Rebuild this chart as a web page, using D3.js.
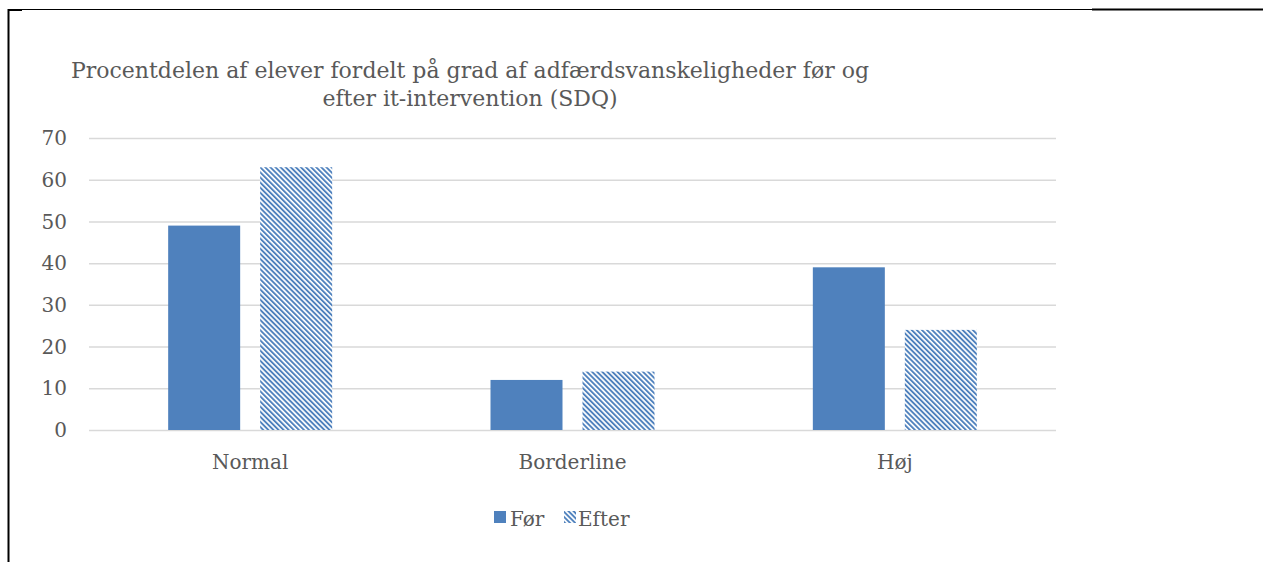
<!DOCTYPE html>
<html><head><meta charset="utf-8">
<script src="https://cdn.jsdelivr.net/npm/d3@7"></script>
<style>body{margin:0;background:#fff}svg{display:block}</style>
</head><body>
<svg id="c" width="1263" height="562"></svg>
<script>
const categories = ["Normal", "Borderline", "Høj"];
const seriesNames = ["Før", "Efter"];
const forValues = [49, 12, 39];
const efterValues = [63, 14, 24];
const yTicks = [0, 10, 20, 30, 40, 50, 60, 70];
const titleLines = ["Procentdelen af elever fordelt på grad af adfærdsvanskeligheder før og", "efter it-intervention (SDQ)"];

const svg = d3.select("#c");
const font = "'DejaVu Serif', serif";
const blue = "#4f81bd";
const textCol = "#595959";
const lblSize = 20;

// frame lines
svg.append("line").attr("x1",8).attr("x2",1092).attr("y1",9.5).attr("y2",9.5).attr("stroke","#000").attr("stroke-width",1);
svg.append("line").attr("x1",1092).attr("x2",1263).attr("y1",9.5).attr("y2",9.5).attr("stroke","#000").attr("stroke-width",2);
svg.append("line").attr("x1",8.5).attr("x2",8.5).attr("y1",9).attr("y2",562).attr("stroke","#000").attr("stroke-width",2);
svg.append("line").attr("x1",8).attr("x2",22).attr("y1",10).attr("y2",10).attr("stroke","#000").attr("stroke-width",2);

const defs = svg.append("defs");
const pat = defs.append("pattern").attr("id","diag").attr("patternUnits","userSpaceOnUse")
  .attr("width",3.6).attr("height",10).attr("patternTransform","rotate(-45)");
pat.append("rect").attr("width",3.6).attr("height",10).attr("fill","#fff");
pat.append("rect").attr("width",1.9).attr("height",10).attr("fill",blue);

const x0 = d3.scaleBand().domain(categories).range([89,1056]);
const y = d3.scaleLinear().domain([0,70]).range([430,138]);

// gridlines
svg.append("g").selectAll("line").data(yTicks).join("line")
  .attr("x1",89).attr("x2",1056)
  .attr("y1",d=>y(d)+0.5).attr("y2",d=>y(d)+0.5)
  .attr("stroke","#d9d9d9").attr("stroke-width",1.5);

// y labels
svg.append("g").selectAll("text").data(yTicks).join("text")
  .attr("x",67).attr("y",d=>y(d)).attr("dy","0.36em")
  .attr("text-anchor","end").attr("font-family",font).attr("font-size",lblSize)
  .attr("fill",textCol).text(d=>d);

const barW = 72, gap = 20;
const data = categories.map((c,i)=>({c, vals:[forValues[i], efterValues[i]]}));
data.forEach(d=>{
  const cx = x0(d.c) + x0.bandwidth()/2;
  d.vals.forEach((v,j)=>{
    const xx = j===0 ? cx - gap/2 - barW : cx + gap/2;
    svg.append("rect").attr("x",xx).attr("y",y(v)).attr("width",barW).attr("height",y(0)-y(v))
      .attr("fill", j===0 ? blue : "url(#diag)");
  });
});

// category labels
svg.append("g").selectAll("text").data(categories).join("text")
  .attr("x",d=>x0(d)+x0.bandwidth()/2).attr("y",469)
  .attr("text-anchor","middle").attr("font-family",font).attr("font-size",lblSize)
  .attr("fill",textCol).text(d=>d);

// title
svg.append("g").selectAll("text").data(titleLines).join("text")
  .attr("x",470).attr("y",(d,i)=>78+i*28)
  .attr("text-anchor","middle").attr("font-family",font).attr("font-size",22)
  .attr("fill",textCol).text(d=>d);

// legend
const lg = svg.append("g");
lg.append("rect").attr("x",494).attr("y",511).attr("width",12).attr("height",12).attr("fill",blue);
lg.append("text").attr("x",510).attr("y",526).attr("font-family",font).attr("font-size",lblSize).attr("fill",textCol).text(seriesNames[0]);
lg.append("rect").attr("x",564).attr("y",511).attr("width",12).attr("height",12).attr("fill","url(#diag)");
lg.append("text").attr("x",578).attr("y",526).attr("font-family",font).attr("font-size",lblSize).attr("fill",textCol).text(seriesNames[1]);
</script>
</body></html>
